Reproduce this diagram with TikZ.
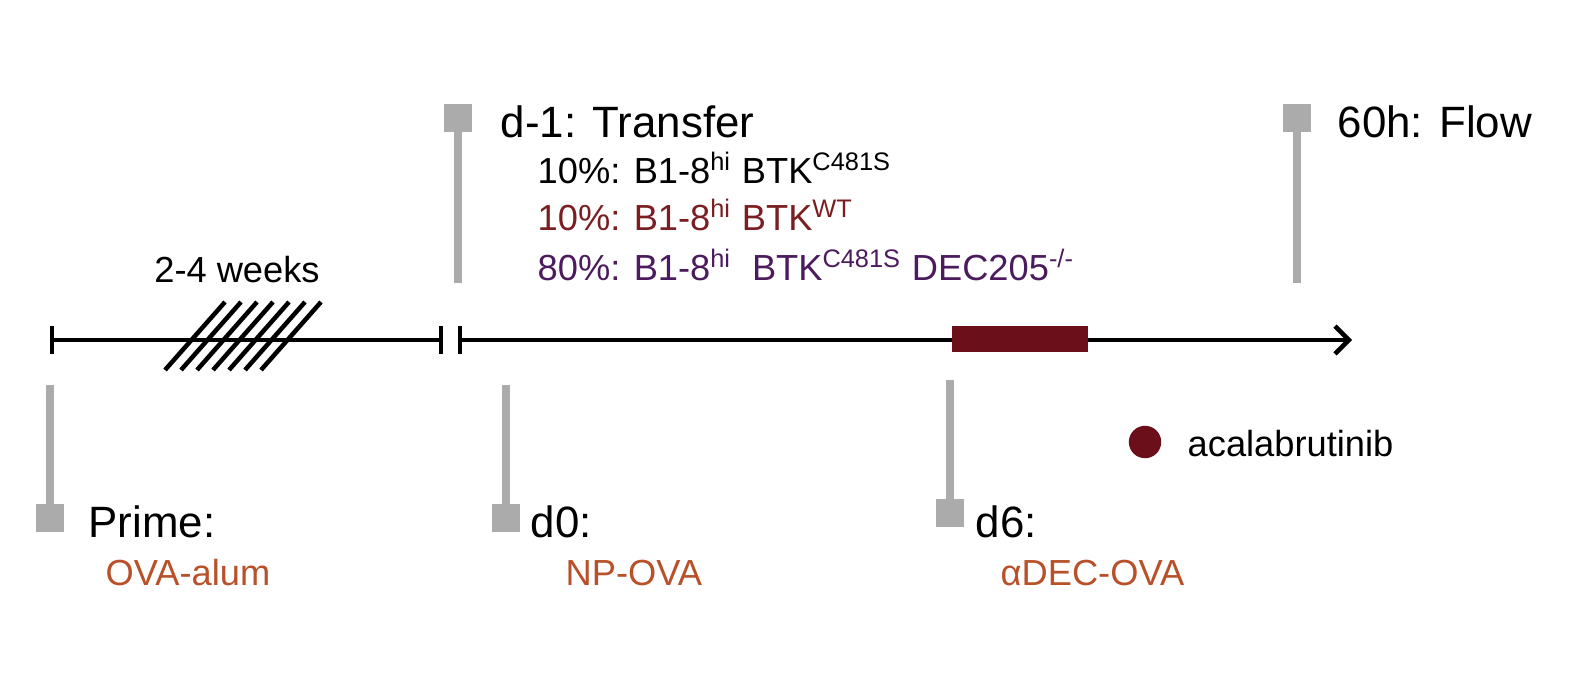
\documentclass[tikz,border=0pt]{standalone}
\usepackage{fontspec}
\setmainfont{Liberation Sans}
\usetikzlibrary{arrows.meta}
\definecolor{pin}{HTML}{ABABAB}
\definecolor{bar}{HTML}{6B0F1A}
\definecolor{wt}{HTML}{7B1E22}
\definecolor{ko}{HTML}{4B1B5E}
\definecolor{org}{HTML}{B8512A}
\tikzset{x=0.01017cm,y=-0.01017cm,
 pinline/.style={draw=pin,line width=2.2pt},
 pinsq/.style={fill=pin,draw=none,minimum size=0.28cm,inner sep=0pt},
 big/.style={font=\fontsize{12.7}{14}\selectfont,anchor=west,inner sep=0pt},
 small/.style={font=\fontsize{10.5}{12}\selectfont,anchor=west,inner sep=0pt},
 tl/.style={line width=1.3pt}}
\begin{document}
\begin{tikzpicture}
\useasboundingbox (0,0) rectangle (1594,680);
% timeline
\coordinate (a1) at (50,340); \coordinate (a2) at (443,340);
\coordinate (b1) at (458,340); \coordinate (b2) at (1352,340);
\draw[tl,{Bar[width=8pt]}-{Bar[width=8pt]}] (a1) -- (a2);
\draw[tl,{Bar[width=8pt]}-{Straight Barb[length=4pt,width=8pt]}] (b1) -- (b2);
\foreach \i in {0,...,6} \draw[line width=1.3pt] (165+\i*16,370) -- (225+\i*16,302);
\node[fill=bar,minimum width=1.38cm,minimum height=0.27cm,inner sep=0pt] (bar) at (1020,339) {};
% top pins
\node[pinsq] (s1) at (458,118) {}; \coordinate (e1) at (458,283); \draw[pinline] (s1) -- (e1);
\node[pinsq] (s2) at (1297,118) {}; \coordinate (e2) at (1297,283); \draw[pinline] (s2) -- (e2);
% bottom pins
\node[pinsq] (s3) at (50,518) {}; \coordinate (e3) at (50,385); \draw[pinline] (s3) -- (e3);
\node[pinsq] (s4) at (506,518) {}; \coordinate (e4) at (506,385); \draw[pinline] (s4) -- (e4);
\node[pinsq] (s5) at (950,513) {}; \coordinate (e5) at (950,380); \draw[pinline] (s5) -- (e5);
% texts
\node[big] (t1) at (500,122) {d-1: Transfer};
\node[small] (l1) at (537,168) {10\%: B1-8\textsuperscript{hi} BTK\textsuperscript{C481S}};
\node[small,text=wt] (l2) at (537,215) {10\%: B1-8\textsuperscript{hi} BTK\textsuperscript{WT}};
\node[small,text=ko] (l3) at (537,265) {80\%: B1-8\textsuperscript{hi}\ \ BTK\textsuperscript{C481S} DEC205\textsuperscript{-/-}};
\node[small,anchor=center] (w) at (237,270) {2-4 weeks};
\node[big] (t2) at (1337,122) {60h: Flow};
\node[big] (p) at (88,522) {Prime:};
\node[small,text=org] (p2) at (105,573) {OVA-alum};
\node[big] (d0) at (530,522) {d0:};
\node[small,text=org] (d02) at (565,573) {NP-OVA};
\node[big] (d6) at (975,522) {d6:};
\node[small,text=org] (d62) at (1000,573) {αDEC-OVA};
\node[circle,fill=bar,minimum size=0.33cm,inner sep=0pt] (dot) at (1145,442) {};
\node[small] (ac) at (1187,444) {acalabrutinib};
\end{tikzpicture}
\end{document}
